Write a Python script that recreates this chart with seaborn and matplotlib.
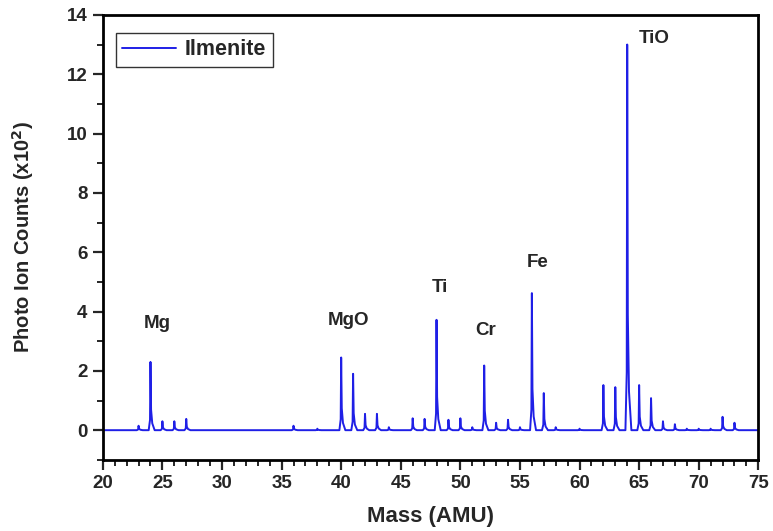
import pandas as pd
import seaborn as sns
import matplotlib.pyplot as plt
from matplotlib.ticker import MultipleLocator

# peak positions (AMU) and heights (x10^2 counts)
peak_mass = [23, 24, 25, 26, 27, 36, 38, 40, 41, 42, 43, 44, 46, 47, 48, 49, 50, 51,
             52, 53, 54, 55, 56, 57, 58, 60, 62, 63, 64, 65, 66, 67, 68, 69, 70, 71, 72, 73]
peak_height = [0.15, 2.3, 0.3, 0.3, 0.38, 0.15, 0.05, 2.45, 1.9, 0.55, 0.55, 0.1, 0.4, 0.38,
               3.72, 0.35, 0.4, 0.1, 2.18, 0.25, 0.35, 0.1, 4.62, 1.25, 0.1, 0.05, 1.52, 1.45,
               13.0, 1.52, 1.08, 0.3, 0.2, 0.05, 0.05, 0.05, 0.45, 0.25]

labels = ["Mg", "MgO", "Ti", "Cr", "Fe", "TiO"]
label_x = [24.6, 40.6, 48.3, 52.1, 56.5, 66.3]
label_y = [3.6, 3.7, 4.8, 3.35, 5.65, 13.2]

# simple peak profile: sharp apex with a short tail on the high-mass side
shape_dx = [-0.15, -0.04, 0.0, 0.05, 0.15, 0.35]
shape_fy = [0.0, 0.15, 1.0, 0.3, 0.1, 0.0]

xs, ys = [20.0], [0.0]
for m, h in zip(peak_mass, peak_height):
    for dx, fy in zip(shape_dx, shape_fy):
        xs.append(m + dx)
        ys.append(h * fy)
xs.append(75.0)
ys.append(0.0)
spec = pd.DataFrame({"mass": xs, "counts": ys})

sns.set_style("white")
plt.rcParams['font.family'] = ['Liberation Sans', 'DejaVu Sans']

fig, ax = plt.subplots(figsize=(7.73, 5.31), dpi=100)
fig.subplots_adjust(left=0.133, right=0.981, top=0.972, bottom=0.134)

sns.lineplot(data=spec, x="mass", y="counts", ax=ax, color="#1f1fe6", lw=1.4,
             label="Ilmenite", sort=False)

ax.set_xlim(20, 75)
ax.set_ylim(-1, 14)
ax.xaxis.set_major_locator(MultipleLocator(5))
ax.xaxis.set_minor_locator(MultipleLocator(1))
ax.yaxis.set_major_locator(MultipleLocator(2))
ax.yaxis.set_minor_locator(MultipleLocator(1))

for s in ax.spines.values():
    s.set_linewidth(2)
    s.set_color("black")

ax.tick_params(which="major", direction="out", length=7, width=1.6,
               labelsize=13.5, pad=4, bottom=True, left=True)
ax.tick_params(which="minor", direction="out", length=4, width=1.4,
               bottom=True, left=True)
for lab in ax.get_xticklabels() + ax.get_yticklabels():
    lab.set_fontweight("bold")

ax.set_xlabel("Mass (AMU)", fontsize=16, fontweight="bold", labelpad=10)
ax.set_ylabel("Photo Ion Counts (x10$^{\\mathbf{2}}$)", fontsize=14.5,
              fontweight="bold", labelpad=22)

# peak annotations
for t, x, y in zip(labels, label_x, label_y):
    ax.text(x, y, t, ha="center", va="center", fontsize=13.5, fontweight="bold")

leg = ax.legend(loc="upper left", bbox_to_anchor=(0.02, 0.96), borderaxespad=0,
                prop={"size": 15.5, "weight": "bold"}, frameon=True, fancybox=False,
                handlelength=2.5, handletextpad=0.4, borderpad=0.3)
leg.get_frame().set_edgecolor("black")
leg.get_frame().set_linewidth(1)

fig.savefig("out.png", dpi=100)
